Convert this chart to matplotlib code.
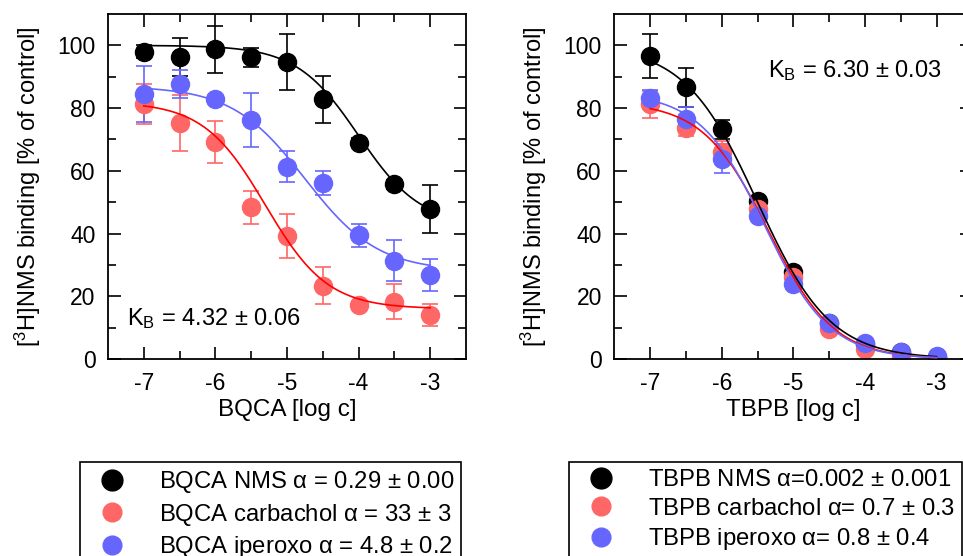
import numpy as np
import matplotlib
matplotlib.use("Agg")
import matplotlib.pyplot as plt
from matplotlib.lines import Line2D

plt.rcParams["font.family"] = ["Liberation Sans", "DejaVu Sans"]
plt.rcParams["mathtext.default"] = "regular"
plt.rcParams["axes.unicode_minus"] = False

# log concentrations
log_c = [-7.0, -6.5, -6.0, -5.5, -5.0, -4.5, -4.0, -3.5, -3.0]

# BQCA panel: mean and error per probe
bqca_nms = [98.0, 96.2, 98.7, 96.2, 94.7, 82.8, 69.0, 55.7, 47.8]
bqca_nms_err = [2.0, 6.0, 7.5, 3.0, 9.0, 7.4, 1.5, 1.5, 7.6]
bqca_cch = [81.2, 75.3, 69.3, 48.4, 39.3, 23.4, 17.2, 18.2, 14.0]
bqca_cch_err = [6.4, 9.0, 6.7, 5.3, 7.0, 5.9, 1.0, 5.6, 3.5]
bqca_ipx = [84.5, 87.6, 83.0, 76.2, 61.3, 56.0, 39.4, 31.3, 26.8]
bqca_ipx_err = [9.0, 4.5, 1.0, 8.5, 5.0, 3.8, 3.8, 6.5, 5.0]

# TBPB panel
tbpb_nms = [96.7, 86.6, 73.3, 50.4, 27.7, 11.4, 4.8, 2.1, 0.7]
tbpb_nms_err = [7.0, 6.3, 3.0, 1.0, 1.0, 1.0, 0.5, 0.5, 0.5]
tbpb_cch = [81.2, 73.7, 66.0, 47.9, 26.1, 9.6, 3.2, 0.5, 0.3]
tbpb_cch_err = [4.3, 2.5, 3.5, 1.0, 1.0, 0.5, 0.5, 0.3, 0.3]
tbpb_ipx = [83.3, 76.5, 63.9, 45.5, 24.0, 11.5, 5.1, 2.1, 0.9]
tbpb_ipx_err = [2.5, 4.0, 4.5, 1.0, 1.0, 0.5, 0.5, 0.3, 0.3]

# fitted curves: (top, bottom, log IC50, Hill slope)
bqca_fits = [(100, 42.5, -4.0, 1.0), (82, 16, -5.3, 1.0), (87, 28, -4.75, 0.85)]
tbpb_fits = [(100, 0, -5.5, 0.85), (82, 0, -5.35, 0.95), (85, 0, -5.4, 0.95)]

bqca_labels = [r"BQCA NMS $\alpha$ = 0.29 ± 0.00",
               r"BQCA carbachol $\alpha$ = 33 ± 3",
               r"BQCA iperoxo $\alpha$ = 4.8 ± 0.2"]
tbpb_labels = [r"TBPB NMS $\alpha$=0.002 ± 0.001",
               r"TBPB carbachol $\alpha$= 0.7 ± 0.3",
               r"TBPB iperoxo $\alpha$= 0.8 ± 0.4"]

marker_colors = ["#000000", "#ff6666", "#6666ff"]
line_colors = ["#000000", "#ff0000", "#6666ff"]

W, H = 963, 556
fig = plt.figure(figsize=(W / 100, H / 100), dpi=100)


def logistic(x, top, bottom, x50, h):
    return bottom + (top - bottom) / (1 + 10 ** ((x - x50) * h))


def panel(rect, series, fits, xlabel, kb_text, kb_xy):
    ax = fig.add_axes(rect)
    xs = np.linspace(-7, -3, 300)
    for (y, e), fit, mc, lc in zip(series, fits, marker_colors, line_colors):
        ax.errorbar(log_c, y, yerr=e, fmt="o", ms=13, color=mc, mec=mc,
                    ecolor=mc, elinewidth=1.2, capsize=5.5, capthick=1.2, zorder=2)
        ax.plot(xs, logistic(xs, *fit), color=lc, lw=1.2, zorder=3)
    ax.set_xlim(-7.5, -2.5)
    ax.set_ylim(0, 110)
    ax.set_xticks([-7, -6, -5, -4, -3])
    ax.set_xticks(np.arange(-7, -2.9, 0.5), minor=True)
    ax.set_yticks([0, 20, 40, 60, 80, 100])
    ax.set_yticks(np.arange(10, 110, 20), minor=True)
    ax.tick_params(which="both", direction="in", top=True, right=True,
                   width=1.2, labelsize=16.5, pad=9)
    ax.tick_params(which="major", length=9)
    ax.tick_params(which="minor", length=6)
    for s in ax.spines.values():
        s.set_linewidth(1.3)
    ax.set_xlabel(xlabel, fontsize=17.5)
    ax.xaxis.set_label_coords(0.5, -0.115)
    ax.set_ylabel(r"[$^{3}$H]NMS binding [% of control]", fontsize=17)
    ax.yaxis.set_label_coords(-0.182, 0.5)
    ax.text(kb_xy[0], kb_xy[1], kb_text, fontsize=17, va="baseline", ha="left")
    return ax


ax_w = 358 / W
ax_h = 345 / H
ax_y = 1 - 359 / H

panel([108 / W, ax_y, ax_w, ax_h],
      [(bqca_nms, bqca_nms_err), (bqca_cch, bqca_cch_err), (bqca_ipx, bqca_ipx_err)],
      bqca_fits, "BQCA [log c]", r"K$_{B}$ = 4.32 ± 0.06", (-7.235, 10.8))
panel([614.3 / W, ax_y, ax_w, ax_h],
      [(tbpb_nms, tbpb_nms_err), (tbpb_cch, tbpb_cch_err), (tbpb_ipx, tbpb_ipx_err)],
      tbpb_fits, "TBPB [log c]", r"K$_{B}$ = 6.30 ± 0.03", (-5.36, 90.0))


def legend(labels, x_px):
    sizes = [15, 13.5, 13.5]
    handles = [Line2D([], [], ls="none", marker="o", ms=s, color=c, mec=c)
               for s, c in zip(sizes, marker_colors)]
    leg = fig.legend(handles, labels, loc="upper left",
                     bbox_to_anchor=(x_px / W, 1 - 462 / H), borderaxespad=0,
                     fontsize=17.2, frameon=True, fancybox=False, framealpha=1,
                     edgecolor="black", handlelength=2.1, handletextpad=0.9,
                     borderpad=0.3, labelspacing=0.27)
    leg.get_frame().set_linewidth(1.2)
    return leg


legend(bqca_labels, 80)
legend(tbpb_labels, 569)

fig.savefig("out.png", dpi=100)
